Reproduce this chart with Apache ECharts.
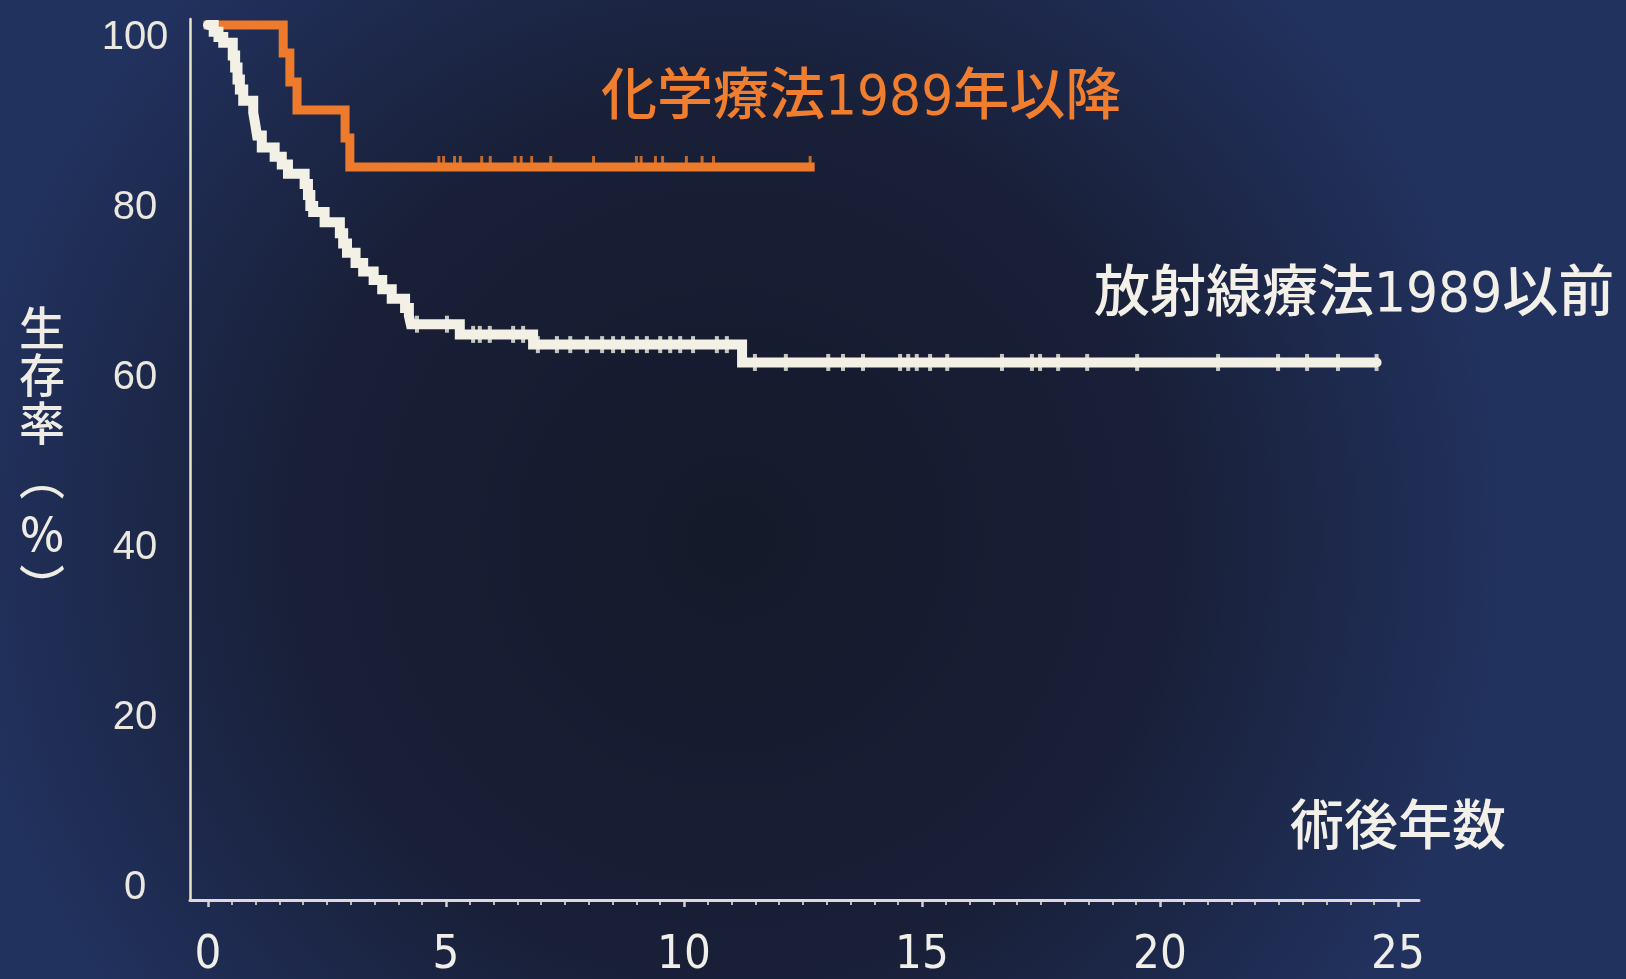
<!DOCTYPE html>
<html lang="ja">
<head>
<meta charset="utf-8">
<title>術後生存率</title>
<script src="https://cdn.jsdelivr.net/npm/echarts@6/dist/echarts.min.js"></script>
<style>
  html, body { margin: 0; padding: 0; width: 100%; height: 100%; overflow: hidden; background: #181f36; }
  #chart { width: 1626px; height: 979px; }
</style>
</head>
<body>
<div id="chart"></div>
<script>
// 放射線療法（1989年以前）: 生存率が変わる時点（術後年数）と変化後の生存率（%）
const radioTimes = [0, 0.12, 0.22, 0.32, 0.52, 0.57, 0.62, 0.67, 0.74, 0.95, 0.99, 1.03, 1.13,
  1.40, 1.55, 1.68, 2.03, 2.10, 2.15, 2.21, 2.45, 2.77, 2.84, 2.92, 3.10, 3.26, 3.48, 3.66,
  3.86, 4.14, 4.22, 4.26, 5.29, 6.83, 11.22, 24.55];
const radioSurvival = [100, 99.2, 98.6, 97.9, 96.4, 95.0, 93.6, 92.4, 91.1, 89.7, 88.4, 87.0, 85.6,
  84.5, 83.6, 82.5, 81.3, 80.0, 78.7, 78.0, 76.8, 75.5, 74.3, 73.2, 72.0, 71.0, 70.0, 68.9,
  67.8, 66.7, 65.8, 64.8, 63.6, 62.4, 60.3, 60.3];
// 放射線療法: 打ち切り例（術後年数）
const radioCensored = [4.39, 5.02, 5.57, 5.71, 5.92, 6.41, 6.62, 6.93, 7.33, 7.61, 7.96, 8.28,
  8.51, 8.72, 9.01, 9.22, 9.50, 9.71, 9.92, 10.19, 10.69, 10.90, 11.49, 12.14, 13.03, 13.34,
  13.76, 14.54, 14.71, 14.89, 15.17, 15.53, 16.68, 17.31, 17.48, 17.86, 18.47, 19.52, 21.22,
  22.48, 23.09, 23.74, 24.55];

// 化学療法（1989年以降）
const chemoTimes = [0, 1.58, 1.72, 1.87, 2.88, 2.98, 12.65];
const chemoSurvival = [100, 96.7, 93.3, 90.0, 86.7, 83.3, 83.3];
const chemoCensored = [4.85, 4.95, 5.18, 5.30, 5.75, 5.93, 6.45, 6.58, 6.80, 7.20, 8.10, 9.00,
  9.10, 9.40, 9.55, 10.05, 10.38, 10.62, 12.65];

// 目盛ラベル
const xTickYears = [0, 5, 10, 15, 20, 25];
const yTickValues = [0, 20, 40, 60, 80, 100];
// 縦書きの軸タイトル（括弧は縦書き用の字形）
const yTitleChars = ['生', '存', '率', '︵', '%', '︶'];

const WHITE = '#f3f1e6';
const ORANGE = '#ee7b2b';
const NARROW = '"Liberation Sans Narrow", "DejaVu Sans Condensed", "Roboto Condensed", "Liberation Sans", sans-serif';
const CJK = '"Liberation Sans Narrow", "DejaVu Sans Condensed", "Noto Sans CJK JP", sans-serif';

function pairs(times, values) {
  return times.map((t, i) => [t, values[i]]);
}
// 打ち切り時点での生存率（階段関数の値）
function survivalAt(times, values, t) {
  let s = values[0];
  for (let i = 0; i < times.length; i++) {
    if (times[i] <= t) s = values[i];
  }
  return s;
}
function censorPoints(censored, times, values) {
  return censored.map(t => [t, survivalAt(times, values, t)]);
}

const chart = echarts.init(document.getElementById('chart'), null, { renderer: 'canvas' });

// 軸タイトル各文字の基準位置（縦書き括弧は字面が字送り方向に寄るため基準をずらす）
const yTitleY = [328, 375, 423, 477, 534, 587];

const hiddenAxis = {
  axisLine: { show: false }, axisTick: { show: false },
  axisLabel: { show: false }, splitLine: { show: false }
};

chart.setOption({
  animation: false,
  backgroundColor: {
    type: 'radial', x: 0.45, y: 0.55, r: 0.8,
    colorStops: [
      { offset: 0, color: '#151a2a' },
      { offset: 0.55, color: '#181f37' },
      { offset: 1, color: '#22325f' }
    ]
  },
  grid: [
    // 曲線
    { left: 208, right: 228, top: 25, bottom: 104 },
    // 軸線
    { left: 190, right: 207, top: 19, bottom: 79 },
    // 横軸の目盛とラベル
    { left: 208, right: 228, top: 25, bottom: 71 }
  ],
  xAxis: [
    Object.assign({ gridIndex: 0, type: 'value', min: 0, max: 25, interval: 5 }, hiddenAxis),
    {
      gridIndex: 1, type: 'value', min: 0, max: 1,
      axisLine: { show: true, onZero: false, lineStyle: { color: '#ddd8dc', width: 3 } },
      axisTick: { show: false }, axisLabel: { show: false }, splitLine: { show: false }
    },
    {
      gridIndex: 2, type: 'value', min: 0, max: 25, interval: 5,
      axisLine: { show: false, onZero: false },
      axisTick: { show: true, length: 5, lineStyle: { color: '#d4d2ce', width: 2.5 } },
      minorTick: { show: true, splitNumber: 10, length: 3, lineStyle: { color: '#bdbcbd', width: 2 } },
      splitLine: { show: false },
      axisLabel: {
        margin: 30,
        color: '#efeee8',
        fontSize: 47,
        fontFamily: NARROW,
        formatter: v => (xTickYears.indexOf(v) >= 0 ? String(v) : '')
      }
    }
  ],
  yAxis: [
    {
      gridIndex: 0, type: 'value', min: 0, max: 100, interval: 20,
      axisLine: { show: false, onZero: false }, axisTick: { show: false }, splitLine: { show: false },
      axisLabel: {
        margin: 73,
        align: 'center',
        verticalAlign: 'middle',
        formatter: v => (yTickValues.indexOf(v) >= 0 ? '{v|' + v + '}' : ''),
        rich: {
          v: {
            padding: [26, 0, 0, 0],
            color: '#eae8df',
            fontSize: 40,
            fontFamily: '"Liberation Sans", Arial, sans-serif'
          }
        }
      }
    },
    {
      gridIndex: 1, type: 'value', min: 0, max: 1,
      axisLine: { show: true, onZero: false, lineStyle: { color: '#e8e5c9', width: 2.5 } },
      axisTick: { show: false }, axisLabel: { show: false }, splitLine: { show: false }
    },
    Object.assign({ gridIndex: 2, type: 'value', min: 0, max: 1 }, hiddenAxis)
  ],
  series: [
    {
      name: '化学療法1989年以降',
      type: 'line', xAxisIndex: 0, yAxisIndex: 0,
      step: 'end', symbol: 'none', clip: false, z: 3,
      lineStyle: { color: ORANGE, width: 9, cap: 'square', join: 'miter' },
      data: pairs(chemoTimes, chemoSurvival)
    },
    {
      name: '化学療法 打ち切り',
      type: 'scatter', xAxisIndex: 0, yAxisIndex: 0, clip: false, z: 3,
      symbol: 'rect', symbolSize: [3, 12], symbolOffset: [0, -5],
      itemStyle: { color: ORANGE },
      data: censorPoints(chemoCensored, chemoTimes, chemoSurvival)
    },
    {
      name: '放射線療法1989以前',
      type: 'line', xAxisIndex: 0, yAxisIndex: 0,
      step: 'end', symbol: 'none', clip: false, z: 4,
      lineStyle: { color: WHITE, width: 10, cap: 'round', join: 'miter' },
      data: pairs(radioTimes, radioSurvival)
    },
    {
      name: '放射線療法 打ち切り',
      type: 'scatter', xAxisIndex: 0, yAxisIndex: 0, clip: false, z: 4,
      symbol: 'rect', symbolSize: [4, 17],
      itemStyle: { color: WHITE },
      data: censorPoints(radioCensored, radioTimes, radioSurvival)
    }
  ],
  graphic: [
    {
      type: 'text', x: 601, y: 99, z: 10,
      style: { text: '化学療法1989年以降', fill: '#f07e2e', align: 'left', verticalAlign: 'middle',
        font: '500 56px ' + CJK }
    },
    {
      type: 'text', x: 1094, y: 296, z: 10,
      style: { text: '放射線療法1989以前', fill: '#f2f0e8', align: 'left', verticalAlign: 'middle',
        font: '500 56px ' + CJK }
    },
    {
      type: 'text', x: 1290, y: 831, z: 10,
      style: { text: '術後年数', fill: '#f2f0e8', align: 'left', verticalAlign: 'middle',
        font: '500 54px ' + CJK }
    }
  ].concat(yTitleChars.map((ch, i) => ({
    type: 'text', x: 42, y: yTitleY[i], z: 10,
    style: { text: ch, fill: '#eeece4', align: 'center', verticalAlign: 'middle',
      font: '500 46px "Noto Sans CJK JP", "Liberation Sans", sans-serif' }
  })))
});
</script>
</body>
</html>
